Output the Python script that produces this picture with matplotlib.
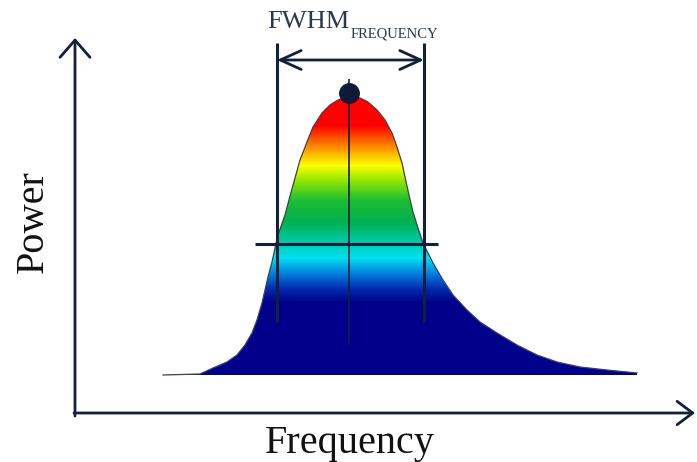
import numpy as np
import matplotlib
matplotlib.use("Agg")
import matplotlib.pyplot as plt
from matplotlib.colors import LinearSegmentedColormap
from matplotlib.patches import Polygon

plt.rcParams['font.family'] = ['Liberation Serif', 'DejaVu Serif']

# ---- data (arbitrary units) ----
frequency = [88, 125, 138, 152, 162, 170, 177, 182, 187, 190,
             193, 197, 200, 203, 210, 215, 220, 225, 232, 238,
             247, 255, 263, 274, 285, 293, 302, 310, 317, 322,
             327, 330, 334, 338, 343, 348, 358, 368, 378, 392,
             405, 422, 442, 462, 482, 505, 532, 562]
power = [0, 1, 7, 13, 20, 30, 42, 55, 72, 85,
         98, 113, 127, 140, 160, 179, 197, 215, 233, 248,
         262, 270, 275, 279, 277, 273, 265, 255, 242, 228,
         212, 198, 180, 163, 147, 132, 112, 95, 80, 65,
         53, 42, 30, 20, 13, 8, 5, 2]

peak_freq = 274
peak_power = 282
fwhm_lo, fwhm_hi = 202, 349
half_power = 131

# gradient colour stops (power level -> colour)
grad_levels = [0, 72, 85, 100, 117, 135, 153, 175, 195, 210, 230, 250, 283]
grad_colors = ['#00008b', '#00008b', '#0028aa', '#0078dc', '#00e1f0', '#00c8a0',
               '#00b050', '#1ebe32', '#96e600', '#ffff00', '#ff8200', '#ff0000', '#ff0000']

line_col = '#13203c'

fig = plt.figure(figsize=(6.97, 4.62), dpi=100)
ax = fig.add_axes([0, 0, 1, 1])
ax.set_xlim(-75, 622)
ax.set_ylim(-87, 375)
ax.axis('off')

# gradient fill clipped to the curve
gmax = grad_levels[-1]
cmap = LinearSegmentedColormap.from_list(
    'grad', list(zip([g / gmax for g in grad_levels], grad_colors)))
fx = np.array(frequency, float)
fy = np.array(power, float)
poly = Polygon(np.column_stack([np.r_[fx, fx[::-1]], np.r_[fy, np.zeros_like(fy)]]),
               closed=True, facecolor='none', edgecolor='none')
ax.add_patch(poly)
grad = np.linspace(0, gmax, 400).reshape(-1, 1)
im = ax.imshow(grad, cmap=cmap, vmin=0, vmax=gmax, origin='lower', aspect='auto',
               extent=[fx.min(), fx.max(), 0, gmax], interpolation='bilinear', zorder=1)
im.set_clip_path(poly)
ax.plot(fx, fy, color='#3c4250', lw=0.9, zorder=2)

# axes arrows
ax.annotate('', xy=(0, 337), xytext=(0, -41),
            arrowprops=dict(arrowstyle='->,head_length=0.62,head_width=0.54',
                            mutation_scale=20, color=line_col, lw=2.0,
                            shrinkA=0, shrinkB=0))
ax.annotate('', xy=(620, -38), xytext=(-1, -38),
            arrowprops=dict(arrowstyle='->,head_length=0.56,head_width=0.42',
                            mutation_scale=20, color=line_col, lw=2.0,
                            shrinkA=0, shrinkB=0))

# FWHM markers
ax.vlines([fwhm_lo, fwhm_hi], 53, 332, color=line_col, lw=2.2, zorder=3)
ax.vlines(peak_freq, 30, 296, color=line_col, lw=1.2, zorder=3)
ax.hlines(half_power, 180, 363, color=line_col, lw=2.2, zorder=3)
ax.annotate('', xy=(fwhm_hi, 315), xytext=(fwhm_lo, 315),
            arrowprops=dict(arrowstyle='<->,head_length=0.75,head_width=0.34',
                            mutation_scale=20, color=line_col, lw=2.0,
                            shrinkA=0, shrinkB=0), zorder=3)
ax.plot([peak_freq], [peak_power], 'o', color='#0d1a38', ms=14, zorder=4)

# texts
ax.text(192, 347, 'FWHM', fontsize=19, color='#2b3850', ha='left', va='baseline')
ax.text(276, 337, 'FREQUENCY', fontsize=10.5, color='#2b3850', ha='left', va='baseline')
ax.text(-42, 153, 'Power', fontsize=29, rotation=90, color='#111111',
        ha='center', va='center')
ax.text(275, -78, 'Frequency', fontsize=29, color='#111111',
        ha='center', va='baseline')

fig.savefig('out.png', dpi=100)
